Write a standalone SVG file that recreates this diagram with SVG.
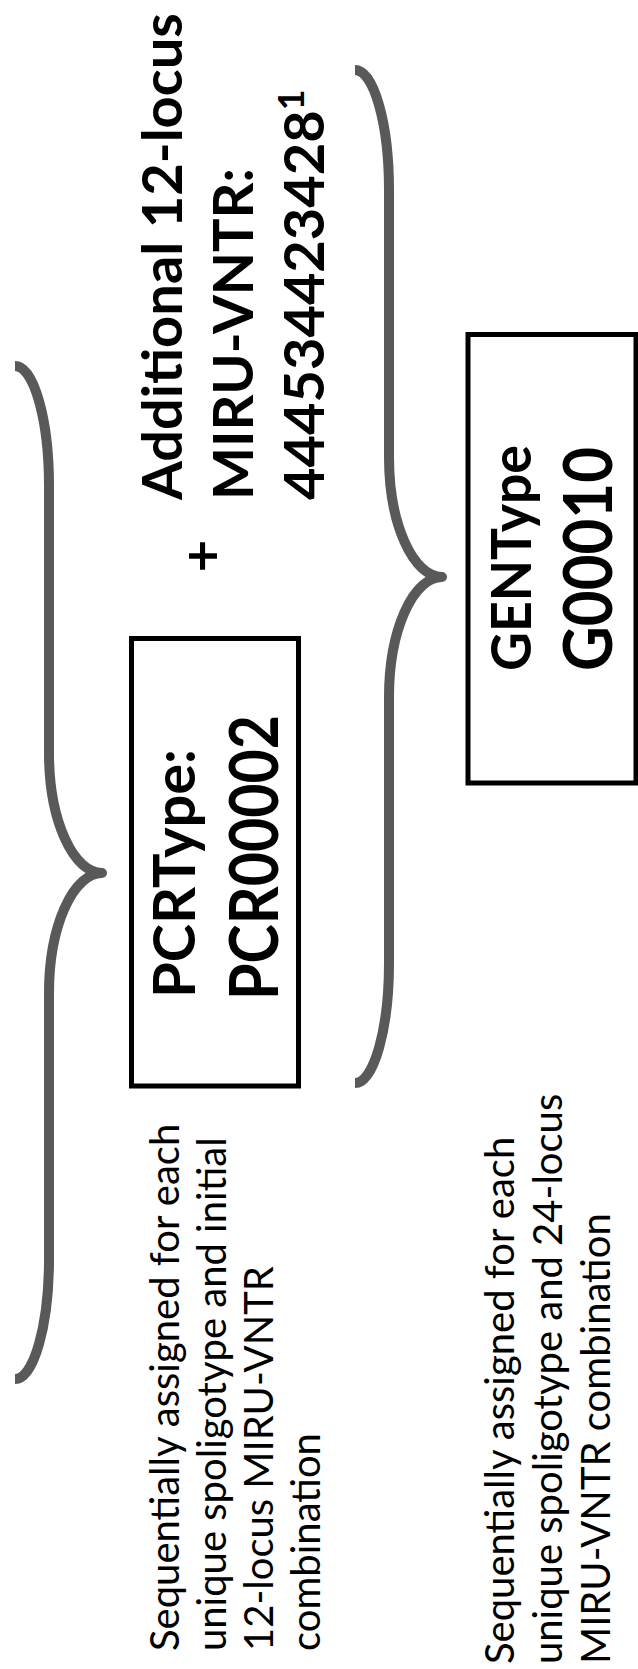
<svg xmlns="http://www.w3.org/2000/svg" width="638" height="1669" viewBox="0 0 638 1669">
<style>
.brace{fill:none;stroke:#595959;stroke-width:10;stroke-linejoin:round;stroke-linecap:butt}
.box{fill:#ffffff;stroke:#000000;stroke-width:5}
.b{font-family:Lato,"Liberation Sans",sans-serif;font-weight:bold;fill:#000000}
.r{font-family:Lato,"Liberation Sans",sans-serif;font-weight:normal;fill:#000000;font-size:40px}
</style>
<defs>
<path id="bracePath" d="M 15 366 A 34 120 0 0 1 49 486 L 49 753 A 53 120 0 0 0 102 873 A 53 120 0 0 0 49 993 L 49 1259 A 34 120 0 0 1 15 1379"/>
</defs>
<g id="connectors">
<use href="#bracePath" class="brace"/>
<use href="#bracePath" class="brace" transform="translate(340,-296)"/>
</g>
<g id="pcr">
<rect class="box" x="131.5" y="638.5" width="167" height="447.5"/>
<g transform="rotate(-90)">
<text class="b" x="-998" y="195" font-size="57" textLength="249" lengthAdjust="spacingAndGlyphs">PCRType:</text>
<text class="b" x="-1000" y="278" font-size="66" textLength="285" lengthAdjust="spacingAndGlyphs">PCR00002</text>
</g>
</g>
<g id="gen">
<rect class="box" x="468" y="334.5" width="168" height="448.5"/>
<g transform="rotate(-90)">
<text class="b" x="-671" y="531" font-size="56" textLength="226" lengthAdjust="spacingAndGlyphs">GENType</text>
<text class="b" x="-671" y="612" font-size="66" textLength="224" lengthAdjust="spacingAndGlyphs">G00010</text>
</g>
</g>
<g id="additional">
<g transform="rotate(-90)">
<text class="b" x="-556" y="222" font-size="56" text-anchor="middle">+</text>
<text class="b" x="-500" y="182" font-size="56">Additional 12-locus</text>
<text class="b" x="-500" y="253" font-size="56">MIRU-VNTR:</text>
<text class="b" x="-500" y="324" font-size="56">444534423428<tspan font-size="36" dy="-20">1</tspan></text>
</g>
</g>
<g id="desc1">
<g transform="rotate(-90)">
<text class="r" x="-1651" y="179">Sequentially assigned for each</text>
<text class="r" x="-1651" y="226">unique spoligotype and initial</text>
<text class="r" x="-1651" y="273">12-locus MIRU-VNTR</text>
<text class="r" x="-1651" y="320">combination</text>
</g>
</g>
<g id="desc2">
<g transform="rotate(-90)">
<text class="r" x="-1664" y="514">Sequentially assigned for each</text>
<text class="r" x="-1664" y="562">unique spoligotype and 24-locus</text>
<text class="r" x="-1664" y="610">MIRU-VNTR combination</text>
</g>
</g>
</svg>
